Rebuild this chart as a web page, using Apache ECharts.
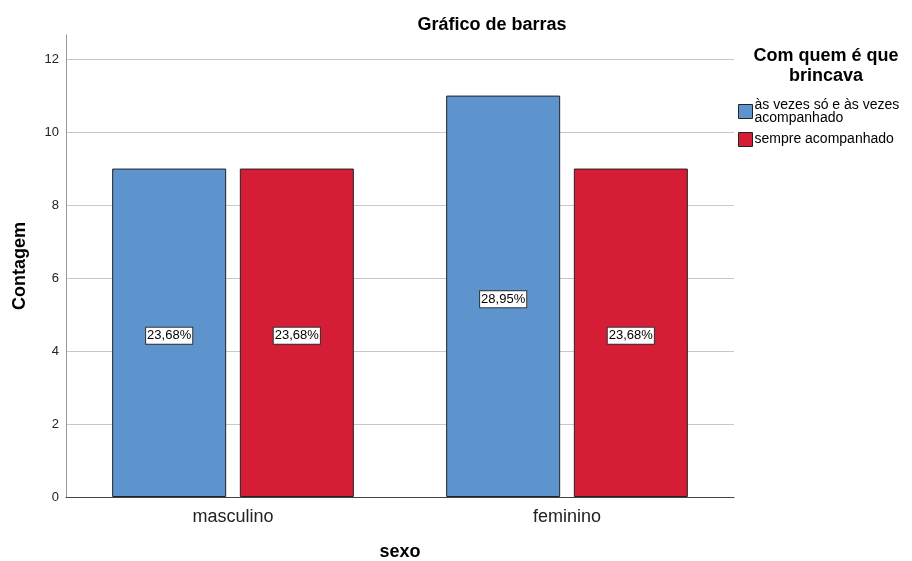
<!DOCTYPE html>
<html>
<head>
<meta charset="utf-8">
<script src="https://cdn.jsdelivr.net/npm/echarts@6/dist/echarts.min.js"></script>
<style>
  html, body { margin: 0; padding: 0; background: #fff; }
  #main { width: 912px; height: 561px; }
</style>
</head>
<body>
<div id="main"></div>
<script>
// dados
var categorias = ['masculino', 'feminino'];
var seriesNomes = ['às vezes só e às vezes\nacompanhado', 'sempre acompanhado'];
var valoresAsVezes = [9, 11];
var valoresSempre = [9, 9];
var percAsVezes = ['23,68%', '28,95%'];
var percSempre = ['23,68%', '23,68%'];

var myChart = echarts.init(document.getElementById('main'));

var rotulo = function (percs) {
    return {
        show: true,
        position: 'inside',
        offset: [0, 3],
        formatter: function (p) { return percs[p.dataIndex]; },
        color: '#000',
        fontSize: 13,
        fontFamily: 'Liberation Sans, Arial, sans-serif',
        backgroundColor: '#fff',
        borderColor: '#333',
        borderWidth: 1,
        padding: [2, 1, 1, 1]
    };
};

var option = {
    animation: false,
    textStyle: { fontFamily: 'Liberation Sans, Arial, sans-serif' },
    title: [{
        text: 'Gráfico de barras',
        left: 487,
        top: 11,
        textAlign: 'center',
        textStyle: { fontSize: 18, fontWeight: 'bold', color: '#000' }
    }, {
        text: 'Com quem é que\nbrincava',
        left: 821,
        top: 41,
        textAlign: 'center',
        textStyle: { fontSize: 18, fontWeight: 'bold', color: '#000', lineHeight: 20 }
    }],
    legend: {
        orient: 'vertical',
        left: 733,
        top: 93,
        itemWidth: 14,
        itemHeight: 14,
        itemGap: 7,
        icon: 'rect',
        data: seriesNomes,
        itemStyle: { borderColor: '#222', borderWidth: 1 },
        textStyle: { fontSize: 14, color: '#000', lineHeight: 13, padding: [0, 0, 0, -3] }
    },
    grid: { left: 66, right: 178, top: 35, bottom: 64, outerBoundsMode: 'none', containLabel: false },
    xAxis: {
        type: 'category',
        data: categorias,
        name: 'sexo',
        nameLocation: 'middle',
        nameGap: 46,
        nameTextStyle: { fontSize: 18, fontWeight: 'bold', color: '#000' },
        axisLine: { lineStyle: { color: '#444' } },
        axisTick: { show: false },
        axisLabel: { fontSize: 18, color: '#222', margin: 11 }
    },
    yAxis: {
        type: 'value',
        min: 0,
        max: 12.66,
        interval: 2,
        name: 'Contagem',
        nameLocation: 'middle',
        nameGap: 37,
        nameTextStyle: { fontSize: 18, fontWeight: 'bold', color: '#000' },
        axisLine: { show: true, lineStyle: { color: '#999' } },
        axisTick: { show: false },
        axisLabel: { fontSize: 13, color: '#222', margin: 7, showMaxLabel: false },
        splitLine: { showMaxLine: false, lineStyle: { color: '#c8c8c8' } }
    },
    series: [{
        name: seriesNomes[0],
        type: 'bar',
        data: valoresAsVezes,
        barWidth: 114,
        barGap: '12%',
        itemStyle: { color: '#5d94cd', borderColor: '#222', borderWidth: 1 },
        label: rotulo(percAsVezes)
    }, {
        name: seriesNomes[1],
        type: 'bar',
        data: valoresSempre,
        barWidth: 114,
        itemStyle: { color: '#d51d35', borderColor: '#222', borderWidth: 1 },
        label: rotulo(percSempre)
    }]
};

myChart.setOption(option);
</script>
</body>
</html>
